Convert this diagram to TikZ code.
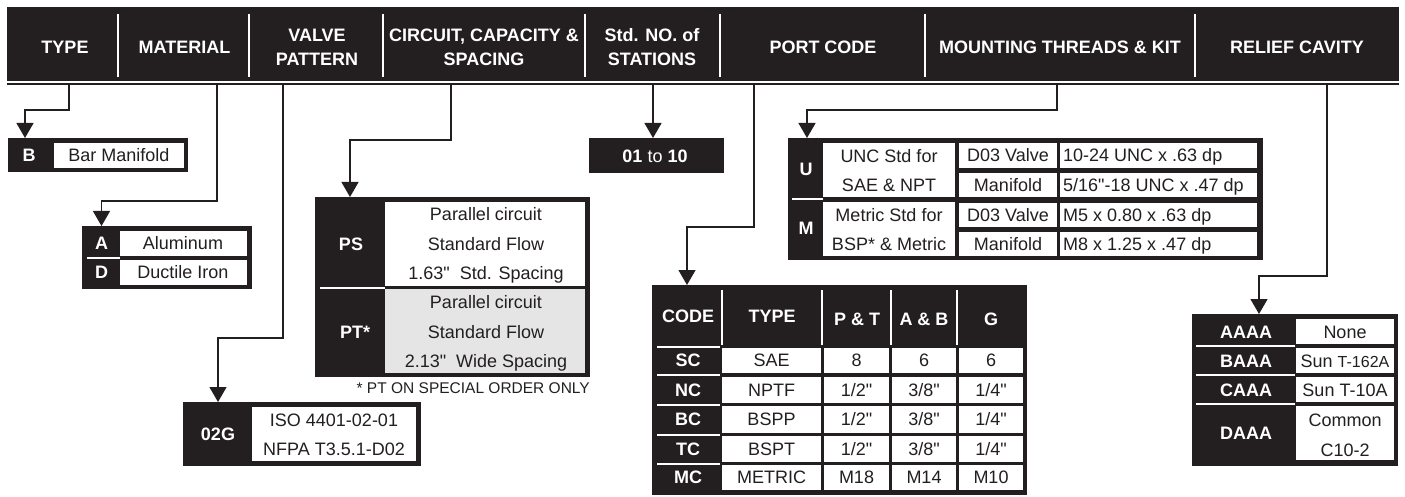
\documentclass[tikz,border=0pt]{standalone}
\usepackage{fontspec}
\setmainfont{Liberation Sans}[Ligatures=TeXOff]
\usetikzlibrary{arrows.meta}
\definecolor{ink}{RGB}{35,31,32}
\definecolor{ptgray}{RGB}{229,229,229}
\newcommand\rfs{\fontsize{18}{24}\selectfont}
\newcommand\bfs{\fontsize{18}{24}\selectfont\bfseries}
\newcommand\sfs{\fontsize{15.5}{18}\selectfont}
\newcommand\portrow[7]{%
  \node[wtx] (pc#7) at (688,#6) {#1};
  \node[rtx] (pty#7) at (771.5,#6) {#2};
  \node[rtx] (ppt#7) at (856.5,#6) {#3};
  \node[rtx] (pab#7) at (924,#6) {#4};
  \node[rtx] (pg#7) at (991,#6) {#5};
}
\begin{document}
\begin{tikzpicture}[x=1pt,y=-1pt,
  blk/.style={fill=ink, draw=none, inner sep=0pt, outer sep=0pt, anchor=north west},
  wtx/.style={text=white, font=\bfs, inner sep=0pt, text height=12.9pt, text depth=0pt},
  rtx/.style={text=ink, font=\rfs, inner sep=0pt, text height=12.9pt, text depth=0pt},
  conn/.style={draw=ink, line width=1.3pt, -{Triangle[width=17pt,length=15pt]}},
  wsep/.style={draw=white, line width=2pt},
]
\useasboundingbox (0,0) rectangle (1405,497);

% ---------- header ----------
\node[blk, minimum width=1392pt, minimum height=74pt] (hdr) at (7,7) {};
\fill[ink] (7,83) rectangle (1399,85.5);
\foreach \x in {118,249,383,585,720,925,1195} \draw[wsep] (\x,14) -- (\x,77);
\node[wtx] (hT)  at (65,47)    {TYPE};
\node[wtx] (hM)  at (184.5,47) {MATERIAL};
\node[wtx] (hV1) at (317,35)   {VALVE};
\node[wtx] (hV2) at (317,59)   {PATTERN};
\node[wtx] (hC1) at (484,35)   {CIRCUIT, CAPACITY \&};
\node[wtx] (hC2) at (484,59)   {SPACING};
\node[wtx] (hS1) at (652,35)   {Std. NO. of};
\node[wtx] (hS2) at (652,59)   {STATIONS};
\node[wtx] (hP)  at (823,47)   {PORT CODE};
\node[wtx] (hK)  at (1060,47)  {MOUNTING THREADS \& KIT};
\node[wtx] (hR)  at (1297,47)  {RELIEF CAVITY};

\coordinate (sType)  at (69,85.5);
\coordinate (sMat)   at (217,85.5);
\coordinate (sValve) at (283,85.5);
\coordinate (sCirc)  at (451,85.5);
\coordinate (sStd)   at (653,85.5);
\coordinate (sPort)  at (754,85.5);
\coordinate (sMount) at (1057,85.5);
\coordinate (sRel)   at (1327,85.5);

% ---------- TYPE ----------
\node[blk, minimum width=180pt, minimum height=34pt] (boxB) at (8,138) {};
\fill[white] (54,143) rectangle (184,168);
\node[wtx] (cB) at (29,155.5) {B};
\node[rtx] (tB) at (119,155.5) {Bar Manifold};

% ---------- MATERIAL ----------
\node[blk, minimum width=170pt, minimum height=63pt] (boxAD) at (82,226) {};
\fill[white] (119.5,231) rectangle (247,256);
\fill[white] (119.5,260) rectangle (247,285);
\draw[wsep] (87,258.3) -- (119.5,258.3);
\node[wtx] (cA) at (101.5,243.5) {A};
\node[wtx] (cD) at (101.5,272.5) {D};
\node[rtx] (tA) at (183,243.5) {Aluminum};
\node[rtx] (tD) at (183,272.5) {Ductile Iron};

% ---------- VALVE PATTERN ----------
\node[blk, minimum width=238pt, minimum height=64pt] (box02G) at (183,402) {};
\fill[white] (252,407) rectangle (416,461);
\node[wtx] (c02G) at (218,434) {02G};
\node[rtx] (t02a) at (334,420) {ISO 4401-02-01};
\node[rtx] (t02b) at (334,449) {NFPA T3.5.1-D02};

% ---------- CIRCUIT ----------
\node[blk, minimum width=275pt, minimum height=180pt] (boxPS) at (315,197) {};
\fill[white] (385,202) rectangle (585,286);
\fill[ptgray] (385,289) rectangle (585,373);
\draw[wsep] (320,287.7) -- (385,287.7);
\node[wtx] (cPS) at (351,244) {PS};
\node[wtx] (cPT) at (355,332) {PT*};
\node[rtx] (ps1) at (486,214) {Parallel circuit};
\node[rtx] (ps2) at (486,244) {Standard Flow};
\node[rtx] (ps3) at (486,273) {1.63"\ \ Std. Spacing};
\node[rtx] (pt1) at (486,302) {Parallel circuit};
\node[rtx] (pt2) at (486,332) {Standard Flow};
\node[rtx] (pt3) at (486,361) {2.13"\ \ Wide Spacing};
\node[text=ink, font=\sfs, inner sep=0pt, anchor=east, text height=11pt, text depth=0pt] (fn) at (590,388) {* PT ON SPECIAL ORDER ONLY};

% ---------- STATIONS ----------
\node[blk, minimum width=135pt, minimum height=35pt] (box0110) at (589,138) {};
\node[wtx, font=\rfs] (c0110) at (655,156) {\textbf{01} to \textbf{10}};

% ---------- MOUNTING ----------
\node[blk, minimum width=475pt, minimum height=122pt] (boxUM) at (788,138) {};
\fill[white] (823,143) rectangle (955,197);
\fill[white] (823,202) rectangle (955,256);
\foreach \a/\b in {143/168,173/197,203/227,232/256} {
  \fill[white] (959,\a) rectangle (1057,\b);
  \fill[white] (1060,\a) rectangle (1257,\b);
}
\draw[wsep] (792,199.5) -- (823,199.5);
\node[wtx] (cU) at (806,169) {U};
\node[wtx] (cM) at (806,228) {M};
\node[rtx] (u1) at (889,156) {UNC Std for};
\node[rtx] (u2) at (889,185) {SAE \& NPT};
\node[rtx] (m1) at (889,215) {Metric Std for};
\node[rtx] (m2) at (889,244) {BSP* \& Metric};
\node[rtx] (v1) at (1008,155.5) {D03 Valve};
\node[rtx] (v2) at (1008,185) {Manifold};
\node[rtx] (v3) at (1008,215) {D03 Valve};
\node[rtx] (v4) at (1008,244) {Manifold};
\node[rtx, anchor=west] (w1) at (1063,155.5) {10-24 UNC x .63 dp};
\node[rtx, anchor=west] (w2) at (1063,185) {5/16"-18 UNC x .47 dp};
\node[rtx, anchor=west] (w3) at (1063,215) {M5 x 0.80 x .63 dp};
\node[rtx, anchor=west] (w4) at (1063,244) {M8 x 1.25 x .47 dp};

% ---------- PORT CODE ----------
\node[blk, minimum width=375pt, minimum height=210pt] (boxPort) at (652,285) {};
\foreach \x in {721.7,822.3,890.7,957.3} \draw[wsep] (\x,290) -- (\x,345);
\draw[wsep] (657,346.5) -- (720,346.5);
\foreach \a/\b in {348/373,377/403,406/433,436/462,465/490} {
  \fill[white] (722,\a) rectangle (821,\b);
  \fill[white] (824,\a) rectangle (889,\b);
  \fill[white] (892,\a) rectangle (956,\b);
  \fill[white] (959,\a) rectangle (1023,\b);
}
\foreach \y in {375,404.5,434.5,463.5} \draw[wsep] (657,\y) -- (720,\y);
\node[wtx] (phC) at (688,316) {CODE};
\node[wtx] (phT) at (772,316) {TYPE};
\node[wtx] (phP) at (857,319) {P \& T};
\node[wtx] (phA) at (924,319) {A \& B};
\node[wtx] (phG) at (991,319) {G};
\portrow{SC}{SAE}{8}{6}{6}{360.5}{1}
\portrow{NC}{NPTF}{1/2"}{3/8"}{1/4"}{390}{2}
\portrow{BC}{BSPP}{1/2"}{3/8"}{1/4"}{419.5}{3}
\portrow{TC}{BSPT}{1/2"}{3/8"}{1/4"}{449}{4}
\portrow{MC}{METRIC}{M18}{M14}{M10}{477.5}{5}

% ---------- RELIEF CAVITY ----------
\node[blk, minimum width=206pt, minimum height=152pt] (boxRC) at (1192,314) {};
\fill[white] (1296,319) rectangle (1394,344);
\fill[white] (1296,348) rectangle (1394,373);
\fill[white] (1296,377) rectangle (1394,402);
\fill[white] (1296,406) rectangle (1394,460);
\foreach \y in {346,375,404} \draw[wsep] (1196,\y) -- (1295,\y);
\node[wtx] (rA) at (1246,332) {AAAA};
\node[wtx] (rB) at (1246,361) {BAAA};
\node[wtx] (rC) at (1246,390) {CAAA};
\node[wtx] (rD) at (1246,433) {DAAA};
\node[rtx] (vA) at (1345,332) {None};
\node[rtx] (vB) at (1345,361) {Sun {\fontsize{16}{18}\selectfont T-162A}};
\node[rtx] (vC) at (1345,390) {Sun T-10A};
\node[rtx] (vD1) at (1345,420) {Common};
\node[rtx] (vD2) at (1345,450) {C10-2};

% ---------- connectors ----------
\draw[conn] (sType)  -- ++(0,24.5)  -| ([xshift=17pt]boxB.north west);
\draw[conn] (sMat)   -- ++(0,115.5) -| ([xshift=19.5pt]boxAD.north west);
\draw[conn] (sValve) -- ++(0,252.5) -| ([xshift=35pt]box02G.north west);
\draw[conn] (sCirc)  -- ++(0,54.5)  -| ([xshift=35pt]boxPS.north west);
\draw[conn] (sStd)   -- (sStd |- box0110.north);
\draw[conn] (sPort)  -- ++(0,141.5) -| ([xshift=35pt]boxPort.north west);
\draw[conn] (sMount) -- ++(0,24.5)  -| ([xshift=19pt]boxUM.north west);
\draw[conn] (sRel)   -- ++(0,190.5) -| ([xshift=67pt]boxRC.north west);
\end{tikzpicture}
\end{document}
